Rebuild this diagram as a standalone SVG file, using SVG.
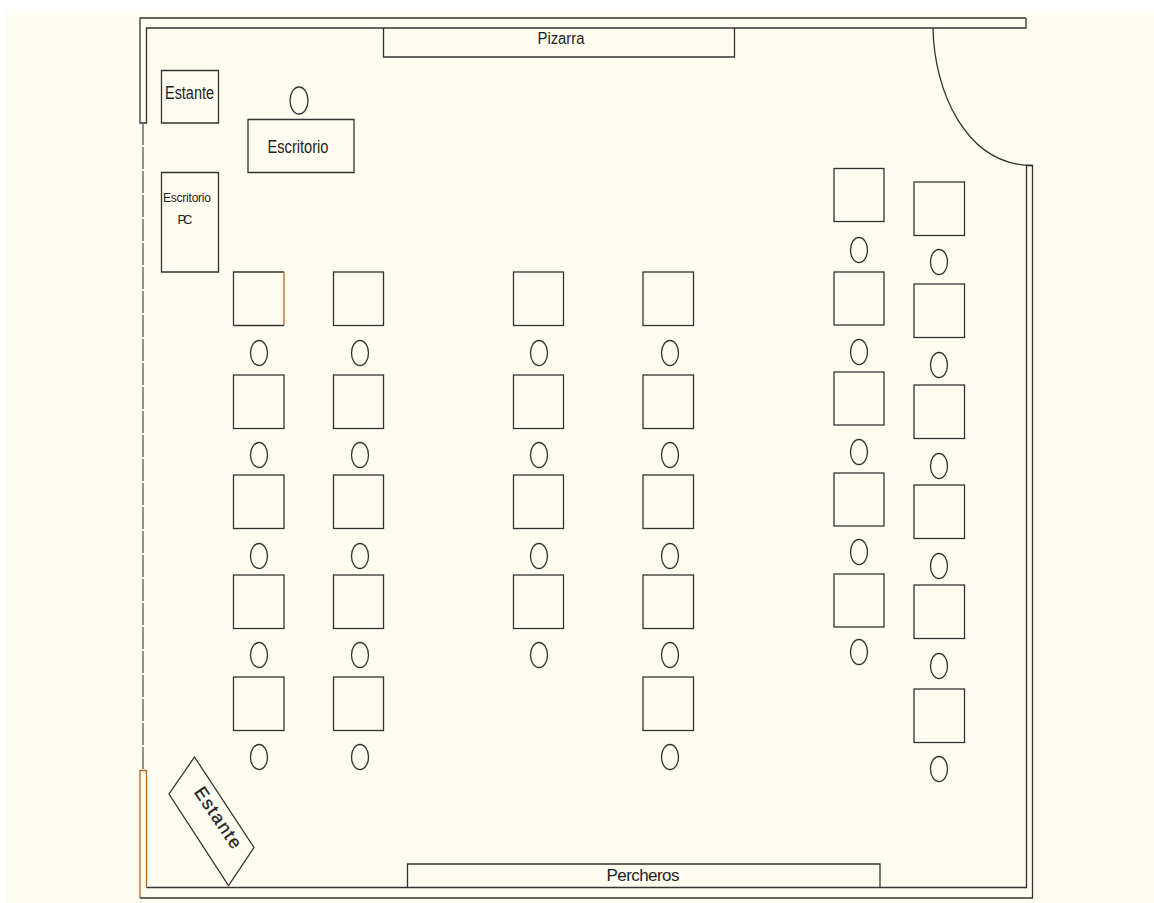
<svg xmlns="http://www.w3.org/2000/svg" width="1154" height="903" viewBox="0 0 1154 903">
<style>
.l{fill:none;stroke:#333;stroke-width:1.3}
.t{font-family:"Liberation Sans",Arial,sans-serif;fill:#222;text-anchor:middle}
</style>
<rect width="1154" height="903" fill="#fff"/>
<rect x="6" y="12" width="1148" height="891" fill="#fefcf0"/>
<path class="l" d="M1026 18H140V123H146.500V28H1026V18M934 28"/>
<path class="l" d="M146.500 887.500H1026.500V165.500H1032.500V898H140"/>
<path fill="none" stroke="#b8651c" stroke-width="1.300" d="M140 898V770.500H146.500V887.500"/>
<path fill="none" stroke="#555" stroke-width="1.300" stroke-dasharray="22 2" d="M143 123V770"/>
<path class="l" d="M933 28C934 90 965 165 1032.500 165.500"/>
<path class="l" d="M383.500 28V57H734.500V28M407.500 887.500V864H880V887.500"/>
<path class="l" d="M161.500 70.500H218.500V123H161.500ZM161.500 172.500H218.500V272H161.500ZM248 119.500H354V172.500H248ZM194.500 757L254 847.500L228.500 885.500L169 794Z"/>
<ellipse class="l" cx="299" cy="100.500" rx="9" ry="13.500"/>
<path class="l" d="M233.500 325.500V272H284"/>
<path fill="none" stroke="#b8651c" stroke-width="1.300" d="M284 272V325.500"/>
<path class="l" d="M233.500 325.500H284"/>
<g class="l">
<rect x="333.500" y="272" width="50" height="53.500"/><rect x="513.500" y="272" width="50" height="53.500"/><rect x="643" y="272" width="50.500" height="53.500"/>
<rect x="233.500" y="375" width="50.500" height="53.500"/><rect x="333.500" y="375" width="50" height="53.500"/><rect x="513.500" y="375" width="50" height="53.500"/><rect x="643" y="375" width="50.500" height="53.500"/>
<rect x="233.500" y="475" width="50.500" height="53.500"/><rect x="333.500" y="475" width="50" height="53.500"/><rect x="513.500" y="475" width="50" height="53.500"/><rect x="643" y="475" width="50.500" height="53.500"/>
<rect x="233.500" y="575" width="50.500" height="53.500"/><rect x="333.500" y="575" width="50" height="53.500"/><rect x="513.500" y="575" width="50" height="53.500"/><rect x="643" y="575" width="50.500" height="53.500"/>
<rect x="233.500" y="677" width="50.500" height="53.500"/><rect x="333.500" y="677" width="50" height="53.500"/><rect x="643" y="677" width="50.500" height="53.500"/>
<rect x="834" y="168.500" width="50" height="53"/><rect x="834" y="272" width="50" height="53"/><rect x="834" y="372" width="50" height="53"/><rect x="834" y="473" width="50" height="53"/><rect x="834" y="574" width="50" height="53"/>
<rect x="914" y="182" width="50.500" height="53.500"/><rect x="914" y="284" width="50.500" height="53.500"/><rect x="914" y="385" width="50.500" height="53.500"/><rect x="914" y="485" width="50.500" height="53.500"/><rect x="914" y="585" width="50.500" height="53.500"/><rect x="914" y="689" width="50.500" height="53.500"/>
<ellipse cx="259" cy="353" rx="8.500" ry="12.500"/><ellipse cx="360" cy="353" rx="8.500" ry="12.500"/><ellipse cx="539" cy="353" rx="8.500" ry="12.500"/><ellipse cx="670" cy="353" rx="8.500" ry="12.500"/>
<ellipse cx="259" cy="455" rx="8.500" ry="12.500"/><ellipse cx="360" cy="455" rx="8.500" ry="12.500"/><ellipse cx="539" cy="455" rx="8.500" ry="12.500"/><ellipse cx="670" cy="455" rx="8.500" ry="12.500"/>
<ellipse cx="259" cy="556" rx="8.500" ry="12.500"/><ellipse cx="360" cy="556" rx="8.500" ry="12.500"/><ellipse cx="539" cy="556" rx="8.500" ry="12.500"/><ellipse cx="670" cy="556" rx="8.500" ry="12.500"/>
<ellipse cx="259" cy="655" rx="8.500" ry="12.500"/><ellipse cx="360" cy="655" rx="8.500" ry="12.500"/><ellipse cx="539" cy="655" rx="8.500" ry="12.500"/><ellipse cx="670" cy="655" rx="8.500" ry="12.500"/>
<ellipse cx="259" cy="757" rx="8.500" ry="12.500"/><ellipse cx="360" cy="757" rx="8.500" ry="12.500"/><ellipse cx="670" cy="757" rx="8.500" ry="12.500"/>
<ellipse cx="859" cy="250" rx="8.500" ry="12.500"/><ellipse cx="859" cy="352" rx="8.500" ry="12.500"/><ellipse cx="859" cy="452" rx="8.500" ry="12.500"/><ellipse cx="859" cy="552" rx="8.500" ry="12.500"/><ellipse cx="859" cy="652" rx="8.500" ry="12.500"/>
<ellipse cx="939" cy="262" rx="8.500" ry="12.500"/><ellipse cx="939" cy="365" rx="8.500" ry="12.500"/><ellipse cx="939" cy="466" rx="8.500" ry="12.500"/><ellipse cx="939" cy="566" rx="8.500" ry="12.500"/><ellipse cx="939" cy="666" rx="8.500" ry="12.500"/><ellipse cx="939" cy="769" rx="8.500" ry="12.500"/>
</g>
<text class="t" x="561" y="44" font-size="16" textLength="47" lengthAdjust="spacingAndGlyphs">Pizarra</text>
<text class="t" x="189.500" y="99" font-size="18" textLength="49" lengthAdjust="spacingAndGlyphs">Estante</text>
<text class="t" x="298" y="153" font-size="18" textLength="61" lengthAdjust="spacingAndGlyphs">Escritorio</text>
<text class="t" x="187" y="202" font-size="12" textLength="48" lengthAdjust="spacing">Escritorio</text>
<text class="t" x="185" y="224" font-size="13" textLength="15" lengthAdjust="spacing">PC</text>
<text class="t" x="643" y="881" font-size="17" textLength="73" lengthAdjust="spacing">Percheros</text>
<text class="t" font-size="18" transform="translate(213 821) rotate(56)" textLength="70" lengthAdjust="spacing" stroke="#222" stroke-width=".3">Estante</text>
</svg>
